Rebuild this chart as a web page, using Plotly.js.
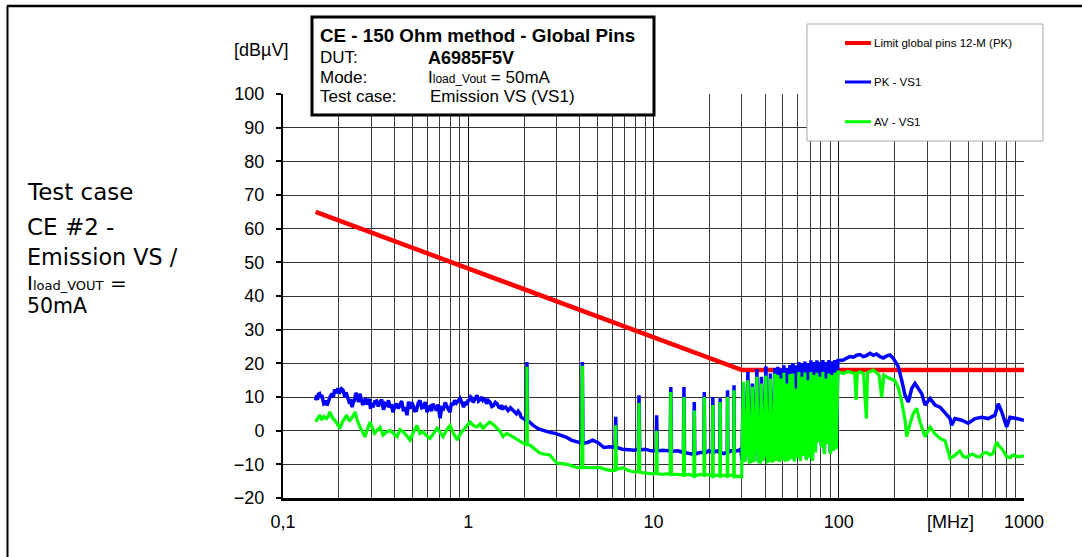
<!DOCTYPE html>
<html><head><meta charset="utf-8">
<script src="https://cdn.plot.ly/plotly-3.0.1.min.js"></script>
<style>html,body{margin:0;padding:0;background:#fff;} #chart{width:1082px;height:557px;}</style>
</head><body><div id="chart"></div>
<script>
// ---------------- DATA ----------------
const seriesNames = ["Limit global pins 12-M (PK)", "PK - VS1", "AV - VS1"];
const xTickVals = [0.1, 1, 10, 100, 1000];
const xTickText = ["0,1", "1", "10", "100", "1000"];

// Limit line (MHz, dBµV)
const limitFreq = [0.15, 30, 1000];
const limitVal  = [65, 18, 18];

// PK - VS1 : 0.15 .. 2 MHz
const pkFreqA = [0.150,0.151,0.152,0.1535,0.155,0.1575,0.160,0.162,0.164,0.166,
  0.168,0.170,0.173,0.175,0.178,0.181,0.184,0.187,0.190,0.194,
  0.198,0.201,0.204,0.207,0.211,0.213,0.216,0.219,0.222,0.225,
  0.229,0.232,0.236,0.239,0.243,0.247,0.251,0.256,0.258,0.260,
  0.265,0.270,0.274,0.279,0.283,0.288,0.292,0.297,0.301,0.306,
  0.313,0.320,0.327,0.334,0.341,0.349,0.356,0.364,0.371,0.378,
  0.385,0.392,0.401,0.410,0.419,0.428,0.437,0.447,0.457,0.467,
  0.476,0.485,0.494,0.503,0.514,0.525,0.537,0.549,0.561,0.573,
  0.586,0.599,0.610,0.622,0.633,0.645,0.659,0.673,0.688,0.704,
  0.720,0.735,0.751,0.768,0.782,0.797,0.812,0.827,0.845,0.863,
  0.883,0.903,0.923,0.944,0.965,0.985,1.000,1.015,1.031,1.048,
  1.064,1.080,1.097,1.115,1.137,1.160,1.180,1.201,1.228,1.255,
  1.282,1.310,1.340,1.370,1.400,1.430,1.460,1.490,1.515,1.540,
  1.590,1.640,1.690,1.744,1.780,1.820,1.860,1.903,1.930,1.960,
  1.990,2.025];
const pkValA = [9.0,10.2,10.5,9.2,10.8,11.0,9.8,10.6,9.5,8.0,
  8.2,9.0,7.5,8.8,9.5,10.4,11.0,10.0,12.2,11.2,
  12.6,11.0,11.5,12.4,12.0,10.8,10.0,11.4,10.5,9.2,
  8.0,9.4,7.0,8.2,9.0,11.2,10.5,8.5,10.0,11.0,
  9.0,7.6,8.8,9.5,7.8,8.5,9.4,6.5,8.2,7.0,
  8.6,8.8,7.2,8.5,9.2,6.2,8.0,7.6,9.0,6.8,
  7.9,5.5,7.2,8.0,6.6,7.6,8.8,5.8,7.0,4.6,
  8.6,6.5,8.4,7.6,5.9,6.0,8.2,9.0,6.8,7.0,
  8.5,5.5,6.9,7.2,5.8,8.0,7.2,6.0,7.8,3.7,
  6.8,6.5,8.4,7.0,6.2,5.5,8.2,7.6,9.0,8.2,
  8.8,9.6,8.4,7.0,8.6,7.6,9.2,8.8,10.0,9.6,
  8.4,9.0,9.8,10.5,8.8,9.2,10.0,9.0,9.6,8.0,
  9.0,8.5,7.2,7.5,8.4,8.0,7.0,6.8,7.5,6.6,
  7.0,6.0,6.8,6.0,5.2,5.0,5.8,5.0,4.0,3.8,
  3.5,3.1];
// PK - VS1 : 2 .. 30 MHz (harmonic spikes)
const pkFreqB = [2.065,2.075,2.088,2.15,2.25,2.40,2.55,2.75,2.95,3.15,
  3.40,3.60,3.85,4.10,4.13,4.16,4.40,4.70,5.00,5.40,
  5.80,6.20,6.25,6.31,6.80,7.40,7.90,8.28,8.35,8.43,
  9.00,9.70,10.33,10.40,10.48,11.20,11.90,12.30,12.40,12.50,
  13.50,14.50,14.60,14.70,15.60,16.50,16.60,16.70,17.80,18.70,
  18.80,18.90,19.90,20.80,20.90,21.00,22.00,22.80,22.90,23.00,
  24.00,25.00,25.10,25.20,26.20,27.10,27.20,27.30,28.50,29.60];
const pkValB = [3.0,20.4,3.0,2.5,1.5,0.5,0.0,-0.5,-0.8,-1.3,
  -2.0,-2.8,-3.2,-3.7,20.4,-3.7,-3.5,-2.8,-3.5,-5.0,
  -4.8,-5.0,4.1,-5.0,-5.5,-5.8,-5.8,-5.5,10.5,-5.8,
  -5.5,-6.0,-6.0,4.6,-6.0,-5.8,-6.0,-6.0,13.0,-6.2,
  -6.0,-6.5,13.0,-6.5,-6.8,-7.0,8.5,-7.0,-6.5,-6.5,
  11.5,-6.8,-6.0,-6.5,10.0,-6.5,-6.0,-6.5,9.6,-6.5,
  -6.8,-6.3,12.0,-6.5,-6.0,-6.0,13.5,-6.0,-6.0,-5.5];
// 30 .. 100 MHz dense harmonics (shared sample frequencies)
const denseFreq = [30.00,30.56,31.14,31.72,32.32,32.93,33.55,34.18,34.82,35.48,
  36.14,36.82,37.52,38.22,38.94,39.67,40.42,41.18,41.96,42.75,
  43.55,44.37,45.20,46.05,46.92,47.80,48.70,49.62,50.55,51.50,
  52.47,53.46,54.46,55.49,56.53,57.60,58.68,59.78,60.91,62.05,
  63.22,64.41,65.62,66.86,68.11,69.40,70.70,72.03,73.39,74.77,
  76.17,77.61,79.07,80.55,82.07,83.61,85.18,86.79,88.42,90.08,
  91.78,93.50,95.26,97.05,98.88];
const pkValDense = [-8.8,14.0,-8.8,-5.5,17.4,-8.8,-8.5,14.0,-8.8,-4.0,
  18.2,-8.7,-8.8,16.0,-8.5,-6.5,19.1,-8.7,-8.5,17.0,
  -8.8,-8.3,18.6,-8.5,19.0,-8.8,18.5,-8.3,19.4,-8.7,
  18.6,-8.5,19.5,-8.0,20.0,-8.7,19.4,-7.5,20.4,-8.5,
  20.0,-7.0,20.5,-8.3,20.0,-7.5,20.9,-8.5,20.4,-6.0,
  20.9,-3.0,20.4,-4.5,21.0,-6.5,20.4,-3.5,21.0,-6.5,
  20.6,-5.5,21.0,-5.0,20.8];
const avValDense = [-9.3,14.5,-9.3,-6.0,15.0,-9.3,-9.2,13.0,-9.3,-4.5,
  16.0,-9.2,-9.3,14.0,-9.0,-7.0,16.4,-9.2,-9.0,15.5,
  -9.3,-8.8,17.0,-9.0,16.5,-9.3,15.5,-8.8,17.2,-9.2,
  14.0,-9.0,16.8,-8.5,17.0,-9.2,12.5,-8.0,17.4,-9.0,
  16.0,-7.5,17.3,-8.8,15.0,-8.0,17.4,-9.0,16.5,-6.5,
  17.2,-3.5,16.0,-5.0,17.4,-7.0,15.5,-4.0,17.0,-7.0,
  16.5,-6.0,17.2,-5.5,17.4];
// PK - VS1 : 100 .. 1000 MHz
const pkFreqC = [100.7,105.8,110,115,120,125,130,135.7,141,147.5,
  153.7,160,167,174,181.6,189,197,209.6,218.6,228,
  237.5,247.6,258,268.6,280.5,292.3,311.2,331,352,375,
  399,407,424,461,500,544,591,641,697,726,
  758,806,840,913,1000];
const pkValC = [20.8,21.0,21.5,22.0,21.8,22.4,22.6,22.0,22.3,23.0,
  22.4,22.8,22.0,21.6,22.2,22.5,21.5,19.0,15.0,10.5,
  8.5,12.5,14.0,12.5,11.0,7.6,9.6,7.6,7.0,5.3,
  3.6,1.6,3.6,3.1,2.2,3.6,4.0,3.6,4.6,8.0,
  5.6,1.1,4.0,3.6,3.1];

// AV - VS1 : 0.15 .. 2 MHz
const avFreqA = [0.150,0.154,0.158,0.162,0.166,0.172,0.176,0.179,0.185,0.191,
  0.197,0.203,0.209,0.215,0.221,0.228,0.235,0.240,0.245,0.252,
  0.260,0.268,0.277,0.286,0.295,0.303,0.312,0.322,0.334,0.347,
  0.360,0.378,0.395,0.413,0.428,0.445,0.465,0.485,0.505,0.529,
  0.548,0.570,0.595,0.622,0.650,0.678,0.705,0.731,0.765,0.797,
  0.832,0.870,0.905,0.937,0.980,1.022,1.068,1.115,1.160,1.201,
  1.255,1.310,1.370,1.430,1.490,1.540,1.610,1.680,1.760,1.833,
  1.900,1.975,2.040,2.068];
const avValA = [2.6,3.8,4.6,3.2,4.2,3.6,4.4,5.6,3.8,3.0,
  1.8,0.7,2.5,3.8,4.6,2.8,3.6,4.5,5.6,3.0,
  1.1,-0.5,-1.8,0.5,2.6,1.0,-0.8,0.1,1.0,-1.3,
  -0.5,0.1,-1.0,-1.8,0.3,-0.3,-1.5,-2.8,-0.5,1.5,
  -0.8,-0.3,-1.5,-2.3,-0.8,0.7,-0.5,-1.8,0.2,1.5,
  -0.8,-2.8,-1.0,0.1,1.2,2.6,1.5,1.1,2.0,0.7,
  1.8,2.6,1.8,0.7,-0.3,-1.8,-0.8,-1.3,-2.0,-2.8,
  -3.2,-3.7,-4.0,-4.0];
// AV - VS1 : 2 .. 30 MHz
const avFreqB = [2.075,2.085,2.154,2.30,2.44,2.60,2.76,2.88,3.01,3.20,
  3.41,3.65,3.865,4.10,4.13,4.16,4.375,4.75,5.14,5.50,
  5.82,6.20,6.25,6.31,6.84,7.30,7.75,8.28,8.35,8.43,
  9.22,9.90,10.33,10.40,10.48,11.25,11.90,12.30,12.40,12.50,
  13.55,14.50,14.60,14.70,15.60,16.50,16.60,16.70,17.80,18.70,
  18.80,18.90,19.90,20.80,20.90,21.00,22.00,22.80,22.90,23.00,
  24.00,25.00,25.10,25.20,26.20,27.10,27.20,27.30,28.50,29.60,
  29.90];
const avValB = [19.0,-4.2,-4.3,-5.5,-6.7,-7.0,-7.2,-8.5,-9.6,-9.8,
  -10.0,-10.5,-11.0,-11.0,19.3,-11.0,-11.0,-10.8,-11.0,-11.5,
  -11.8,-11.8,1.6,-11.5,-11.0,-11.8,-12.2,-12.2,8.2,-12.4,
  -12.6,-12.8,-12.6,0.0,-12.8,-13.0,-12.8,-13.0,11.5,-13.0,
  -13.0,-13.2,10.0,-13.2,-13.0,-13.5,6.0,-13.5,-13.0,-13.2,
  10.0,-13.2,-13.0,-13.5,7.6,-13.5,-13.2,-13.5,8.5,-13.5,
  -13.3,-13.5,10.0,-13.5,-13.2,-13.5,12.0,-13.7,-13.5,-13.7,
  -13.7];
// AV - VS1 : 100 .. 1000 MHz
const avFreqC = [100.7,106,112,118,122,124,126,130,136,141,
  143,150,154,160,165,170.6,175,185,201,209.6,
  218.6,228,232.8,242.6,252.6,263.4,274.6,292.3,311.2,331,
  352,375,399,420,433.5,450,470,490,511,530,
  556,580,603,630,655,680,712,730,758,780,
  806,840,876,930,1000];
const avValC = [17.4,17.0,17.6,17.2,17.0,9.1,17.0,17.5,17.0,3.6,
  17.2,17.8,18.0,17.2,16.5,10.0,16.5,15.7,14.8,12.8,
  8.6,3.1,-1.8,2.1,5.1,6.6,2.6,-1.8,1.1,-1.0,
  -2.3,-3.0,-8.2,-7.5,-6.7,-6.0,-7.7,-8.0,-7.2,-7.0,
  -7.7,-7.8,-6.7,-6.5,-7.2,-6.8,-3.4,-4.5,-5.3,-6.5,
  -7.7,-8.0,-7.2,-7.8,-7.5];

// --------------- assemble series ---------------
const pkFreq = pkFreqA.concat(pkFreqB, denseFreq, pkFreqC);
const pkVal  = pkValA.concat(pkValB, pkValDense, pkValC);
const avFreq = avFreqA.concat(avFreqB, denseFreq, avFreqC);
const avVal  = avValA.concat(avValB, avValDense, avValC);

// --------------- layout helpers ---------------
const W = 1082, H = 557, L = 283, R = 58, T = 94, B = 59;
const pw = W - L - R, ph = H - T - B;
const px = x => (x - L) / pw;
const py = y => (H - B - y) / ph;
const FONT = "Liberation Sans, Arial, sans-serif";
const SIDE = "DejaVu Sans, sans-serif";
const colors = ["#ff0000", "#0000ff", "#00ff00"];

const traces = [
  {x: limitFreq, y: limitVal, name: seriesNames[0], mode: "lines", line: {color: colors[0], width: 4.5}},
  {x: pkFreq, y: pkVal, name: seriesNames[1], mode: "lines", line: {color: colors[1], width: 3.5}},
  {x: avFreq, y: avVal, name: seriesNames[2], mode: "lines", line: {color: colors[2], width: 3.2}}
];

function ann(text, x, y, size, family, opts) {
  return Object.assign({text: text, x: px(x), y: py(y), xref: "paper", yref: "paper",
    xanchor: "left", yanchor: "middle", showarrow: false,
    font: {family: family || FONT, size: size, color: "#000"}}, opts || {});
}

const annotations = [
  ann("[dBµV]", 260.5, 50, 18, FONT, {xanchor: "center"}),
  ann("[MHz]", 950, 522, 18, FONT, {xanchor: "center"}),
  ann("<b>CE - 150 Ohm method - Global Pins</b>", 318, 35.7, 18.8),
  ann("DUT:", 318, 57.7, 17),
  ann("<b>A6985F5V</b>", 426, 57.7, 18),
  ann("Mode:", 318, 78, 17),
  ann("I<span style='font-size:12px'>load_Vout</span> = 50mA", 426, 78, 17),
  ann("Test case:", 318, 96.7, 17),
  ann("Emission VS (VS1)", 428, 96.7, 17),
  ann("Test case", 25, 191.7, 23, SIDE),
  ann("CE #2 -", 25, 226.7, 23, SIDE),
  ann("Emission VS /", 25, 256.7, 22.3, SIDE),
  ann("I<span style='font-size:13px'>load_VOUT</span> =", 25, 283, 20, SIDE),
  ann("50mA", 25, 306, 20.5, SIDE),
  ann(seriesNames[0], 872, 43, 11.5, FONT),
  ann(seriesNames[1], 872, 82, 11.5, FONT),
  ann(seriesNames[2], 872, 121.7, 11.5, FONT)
];

const shapes = [
  {type: "line", xref: "paper", yref: "paper", x0: px(7), x1: px(1082), y0: py(6), y1: py(6), line: {color: "#000", width: 2.5}},
  {type: "line", xref: "paper", yref: "paper", x0: px(7.5), x1: px(7.5), y0: py(6), y1: py(557), line: {color: "#000", width: 2}},
  {type: "rect", xref: "paper", yref: "paper", x0: px(312), x1: px(654), y0: py(115), y1: py(17), line: {color: "#000", width: 3}, fillcolor: "#fff", layer: "above"},
  {type: "rect", xref: "paper", yref: "paper", x0: px(807), x1: px(1043), y0: py(141), y1: py(24), line: {color: "#a8a8a8", width: 1}, fillcolor: "#fff", layer: "above"},
  {type: "line", xref: "paper", yref: "paper", x0: px(845), x1: px(871), y0: py(43), y1: py(43), line: {color: colors[0], width: 4}, layer: "above"},
  {type: "line", xref: "paper", yref: "paper", x0: px(845), x1: px(871), y0: py(82), y1: py(82), line: {color: colors[1], width: 3}, layer: "above"},
  {type: "line", xref: "paper", yref: "paper", x0: px(845), x1: px(871), y0: py(121.7), y1: py(121.7), line: {color: colors[2], width: 3}, layer: "above"}
];

const layout = {
  width: W, height: H,
  margin: {l: L, r: R, t: T, b: B, pad: 0},
  paper_bgcolor: "#fff", plot_bgcolor: "#fff",
  showlegend: false,
  font: {family: FONT, color: "#000"},
  xaxis: {
    type: "log", range: [-1, 3], tickmode: "array", tickvals: xTickVals, ticktext: xTickText,
    showgrid: true, gridcolor: "#111", gridwidth: 1,
    minor: {dtick: "D1", showgrid: true, gridcolor: "#3c3c3c", gridwidth: 1, ticks: ""},
    showline: true, linecolor: "#000", linewidth: 3, ticks: "", zeroline: false,
    ticklabelstandoff: 5,
    tickfont: {family: FONT, size: 18, color: "#000"}
  },
  yaxis: {
    range: [-20, 100], tickmode: "linear", tick0: 0, dtick: 10,
    showgrid: true, gridcolor: "#333", gridwidth: 1, zeroline: false,
    showline: true, linecolor: "#000", linewidth: 2,
    ticks: "outside", ticklen: 5, tickwidth: 2, tickcolor: "#000",
    ticklabelstandoff: 8,
    tickfont: {family: FONT, size: 18, color: "#000"}
  },
  shapes: shapes,
  annotations: annotations
};

Plotly.newPlot("chart", traces, layout, {staticPlot: true, displayModeBar: false});
</script>
</body></html>
